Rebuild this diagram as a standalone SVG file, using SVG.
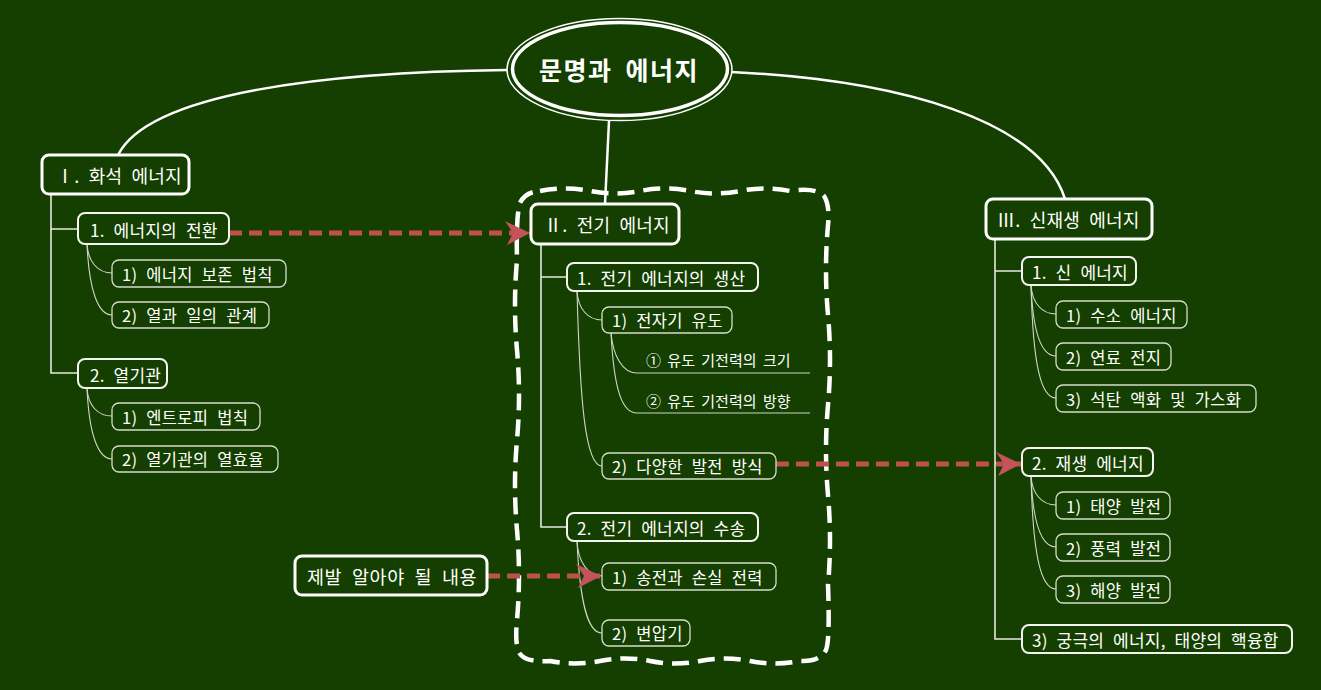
<svg xmlns="http://www.w3.org/2000/svg" width="1321" height="690" viewBox="0 0 1321 690">
<defs>
<style>
text{font-family:"Noto Sans CJK KR","Noto Sans",sans-serif;fill:#ffffff;dominant-baseline:central}
.l1 rect{fill:#143f00;stroke:#ffffff;stroke-width:3}
.l1 text{font-size:18px;letter-spacing:0.2px;word-spacing:5px}
.l2 rect{fill:#143f00;stroke:#f4f4f0;stroke-width:2}
.l2 text{font-size:17px;letter-spacing:0.2px;word-spacing:5px}
.l3 rect{fill:#143f00;stroke:#d6dccc;stroke-width:1.3}
.l3 text{font-size:16.5px;letter-spacing:0.3px;word-spacing:5px}
.l3 text.sub{font-size:15px;letter-spacing:0;word-spacing:3px}
.main{fill:none;stroke:#ffffff;stroke-width:2.5}
.trunk{fill:none;stroke:#e6e8e0;stroke-width:1.6}
.twig{fill:none;stroke:#d0d6c6;stroke-width:1.1}
.red{fill:none;stroke:#c0504d;stroke-width:5;stroke-dasharray:13 7}
</style>
<marker id="ah" markerUnits="userSpaceOnUse" markerWidth="28" markerHeight="28" refX="25" refY="12" orient="auto">
<path d="M25,12 L0,0 L8,12 L2,24 Z" fill="#c4535c"/>
</marker>
</defs>
<rect width="1321" height="690" fill="#143f00"/>

<g id="boundary">
<path d="M 540,191 Q 565,186 590,191 T 640,191 T 690,191 T 740,191 T 790,191 Q 815,187 824,196 Q 830,205 828,225 Q 824,270 828,315 T 828,405 T 828,495 T 828,585 Q 830,640 826,650 Q 820,662 800,661 Q 775,666 750,661 T 700,661 T 650,661 T 600,661 T 550,661 Q 522,663 518,650 Q 515,640 517,620 Q 521,575 517,530 T 517,440 T 517,350 T 517,260 Q 516,215 520,203 Q 525,192 540,191 Z" fill="none" stroke="#ffffff" stroke-width="4.5" stroke-dasharray="17 9"/>
</g>

<g id="connectors">
<path class="main" d="M507,70 C330,72 150,92 118,155"/>
<path class="main" d="M731,72 C900,80 1040,120 1065,199"/>
<path class="main" d="M609,121 L605,204"/>
<path class="trunk" d="M51,194 L51,373 L78,373 M51,229 L78,229"/>
<path class="twig" d="M87,244 C88,262 98,273 112,273"/>
<path class="twig" d="M87,244 C89,290 98,315 112,315"/>
<path class="twig" d="M87,388 C88,406 98,416 112,416"/>
<path class="twig" d="M87,388 C89,434 98,459 112,459"/>
<path class="trunk" d="M541,244 L541,527 L567,527 M541,277 L567,277"/>
<path class="twig" d="M577,291 C578,309 588,320 602,320"/>
<path class="twig" d="M577,291 C580,400 585,466 602,466"/>
<path class="twig" d="M611,333 C613,355 622,373 637,373 L810,373"/>
<path class="twig" d="M611,333 C614,390 622,413 637,413 L810,413"/>
<path class="twig" d="M577,541 C578,562 588,576 602,576"/>
<path class="twig" d="M577,541 C580,605 588,633 602,633"/>
<path class="trunk" d="M995,239 L995,639 L1022,639 M995,271 L1022,271 M995,463 L1022,463"/>
<path class="twig" d="M1031,285 C1032,303 1042,314 1056,314"/>
<path class="twig" d="M1031,285 C1033,335 1042,356 1056,356"/>
<path class="twig" d="M1031,285 C1033,370 1042,398 1056,398"/>
<path class="twig" d="M1031,476 C1032,494 1042,505 1056,505"/>
<path class="twig" d="M1031,476 C1033,526 1042,547 1056,547"/>
<path class="twig" d="M1031,476 C1033,561 1042,589 1056,589"/>
<path class="red" d="M229,233 L530,233" marker-end="url(#ah)"/>
<path class="red" d="M776,464 L1021,464" marker-end="url(#ah)"/>
<path class="red" d="M487,576 L601,576" marker-end="url(#ah)"/>
</g>

<g id="center">
<ellipse cx="619.5" cy="69.5" rx="112.5" ry="51" fill="#143f00" stroke="#ffffff" stroke-width="1.5"/>
<ellipse cx="620" cy="69" rx="107.5" ry="46.5" fill="none" stroke="#ffffff" stroke-width="3.5"/>
<text x="619" y="69" text-anchor="middle" style="font-size:25px;font-weight:bold;letter-spacing:1.5px;word-spacing:6px">문명과 에너지</text>
</g>

<g id="n1" class="l1"><rect x="42" y="155" width="147" height="39" rx="7"/><text x="56" y="175">Ⅰ. 화석 에너지</text></g>
<g id="n1a" class="l2"><rect x="78" y="213" width="151" height="31" rx="7"/><text x="90" y="229">1. 에너지의 전환</text></g>
<g id="n1a1" class="l3"><rect x="112" y="260" width="174" height="27" rx="7"/><text x="122" y="274">1) 에너지 보존 법칙</text></g>
<g id="n1a2" class="l3"><rect x="112" y="302" width="157" height="26" rx="7"/><text x="122" y="315">2) 열과 일의 관계</text></g>
<g id="n1b" class="l2"><rect x="78" y="359" width="89" height="29" rx="7"/><text x="90" y="374">2. 열기관</text></g>
<g id="n1b1" class="l3"><rect x="112" y="403" width="148" height="27" rx="7"/><text x="122" y="417">1) 엔트로피 법칙</text></g>
<g id="n1b2" class="l3"><rect x="112" y="446" width="166" height="26" rx="7"/><text x="122" y="459">2) 열기관의 열효율</text></g>

<g id="n2" class="l1"><rect x="531" y="204" width="148" height="40" rx="7"/><text x="544" y="224">Ⅱ. 전기 에너지</text></g>
<g id="n2a" class="l2"><rect x="567" y="263" width="191" height="28" rx="7"/><text x="577" y="277">1. 전기 에너지의 생산</text></g>
<g id="n2a1" class="l3"><rect x="602" y="307" width="130" height="26" rx="7"/><text x="612" y="320">1) 전자기 유도</text></g>
<g id="n2a1a" class="l3"><text class="sub" x="646" y="359">① 유도 기전력의 크기</text></g>
<g id="n2a1b" class="l3"><text class="sub" x="646" y="400">② 유도 기전력의 방향</text></g>
<g id="n2a2" class="l3"><rect x="602" y="453" width="174" height="26" rx="7"/><text x="612" y="466">2) 다양한 발전 방식</text></g>
<g id="n2b" class="l2"><rect x="567" y="513" width="191" height="28" rx="7"/><text x="577" y="527">2. 전기 에너지의 수송</text></g>
<g id="n2b1" class="l3"><rect x="602" y="563" width="174" height="27" rx="7"/><text x="612" y="577">1) 송전과 손실 전력</text></g>
<g id="n2b2" class="l3"><rect x="602" y="620" width="88" height="26" rx="7"/><text x="612" y="633">2) 변압기</text></g>

<g id="note" class="l1"><rect x="295" y="556" width="192" height="39" rx="7"/><text x="307" y="576" style="font-size:18.5px;letter-spacing:0.6px">제발 알아야 될 내용</text></g>

<g id="n3" class="l1"><rect x="986" y="199" width="166" height="40" rx="7"/><text x="997" y="219">Ⅲ. 신재생 에너지</text></g>
<g id="n3a" class="l2"><rect x="1022" y="257" width="114" height="28" rx="7"/><text x="1032" y="271">1. 신 에너지</text></g>
<g id="n3a1" class="l3"><rect x="1056" y="301" width="131" height="27" rx="7"/><text x="1066" y="315">1) 수소 에너지</text></g>
<g id="n3a2" class="l3"><rect x="1056" y="343" width="115" height="27" rx="7"/><text x="1066" y="357">2) 연료 전지</text></g>
<g id="n3a3" class="l3"><rect x="1056" y="385" width="200" height="27" rx="7"/><text x="1066" y="399">3) 석탄 액화 및 가스화</text></g>
<g id="n3b" class="l2"><rect x="1022" y="448" width="131" height="28" rx="7"/><text x="1032" y="462">2. 재생 에너지</text></g>
<g id="n3b1" class="l3"><rect x="1056" y="492" width="114" height="27" rx="7"/><text x="1066" y="506">1) 태양 발전</text></g>
<g id="n3b2" class="l3"><rect x="1056" y="534" width="114" height="27" rx="7"/><text x="1066" y="548">2) 풍력 발전</text></g>
<g id="n3b3" class="l3"><rect x="1056" y="576" width="114" height="27" rx="7"/><text x="1066" y="590">3) 해양 발전</text></g>
<g id="n3c" class="l2"><rect x="1022" y="625" width="270" height="28" rx="7"/><text x="1032" y="639">3) 궁극의 에너지, 태양의 핵융합</text></g>
</svg>
